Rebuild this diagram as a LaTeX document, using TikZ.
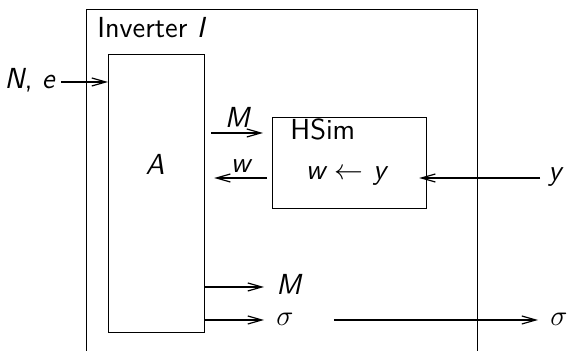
\documentclass[tikz,border=0pt]{standalone}
\usetikzlibrary{arrows.meta}

\begin{document}
\begin{tikzpicture}[x=0.5pt, y=-0.5pt,
  box/.style={draw, line width=0.6pt, inner sep=0pt},
  lbl/.style={font=\fontsize{14.5}{17}\selectfont\sffamily, inner sep=2pt},
  var/.style={lbl, font=\fontsize{14.5}{17}\selectfont\sffamily\itshape},
  arr/.style={-{Straight Barb[length=7pt,width=4pt]}, line width=0.6pt}]
  \useasboundingbox (0,0) rectangle (567,351);
  \node[box, anchor=north west, minimum width=195.5pt, minimum height=200pt] (inv) at (86,9) {};
  \node[lbl, anchor=base west, inner sep=0pt] (title) at (97,38) {Inverter \textit{I}};
  \node[box, anchor=north west, minimum width=48pt, minimum height=139pt] (A) at (108,54) {};
  \node[var] (Alab) at (155,164) {A};
  \node[box, anchor=north west, minimum width=77pt, minimum height=45.5pt] (hsim) at (272,117) {};
  \node[lbl, anchor=base west, inner sep=0pt] (hsimlab) at (290,140) {HSim};
  \node[var, anchor=base] (wy) at (346,180) {w $\leftarrow$ y};
  \node[var, anchor=east] (ne) at (59,80) {N{\upshape,} e};
  \node[var, anchor=west] (yin) at (544,177) {y};
  \node[var, anchor=west] (mout) at (272,284) {M};
  \node[lbl, anchor=west] (s1) at (272,319) {$\sigma$};
  \node[lbl, anchor=west] (s2) at (546,319) {$\sigma$};
  \coordinate (Min) at ([yshift=-8pt]hsim.north west);
  \coordinate (wout) at ([yshift=-30.5pt]hsim.north west);
  % links
  \draw[arr, shorten <=1pt] (ne.east |- 0,82) -- (A.west |- 0,82);
  \draw[arr] ([xshift=3pt]A.east |- Min) -- ([xshift=-4.5pt]Min) node[var, midway, above, inner sep=2.5pt] {M};
  \draw[arr] ([xshift=-2.5pt]wout) -- ([xshift=4.5pt]A.east |- wout) node[var, midway, above, inner sep=2.5pt] {w};
  \draw[arr, shorten <=2pt] (yin.west |- wout) -- ([xshift=-4pt]hsim.east |- wout);
  \draw[arr, shorten >=4pt] (A.east |- 0,287) -- (mout.west |- 0,287);
  \draw[arr, shorten >=4pt] (A.east |- 0,320) -- (s1.west |- 0,320);
  \draw[arr, shorten <=18pt, shorten >=4pt] (s1.east |- 0,320) -- (s2.west |- 0,320);
\end{tikzpicture}
\end{document}
